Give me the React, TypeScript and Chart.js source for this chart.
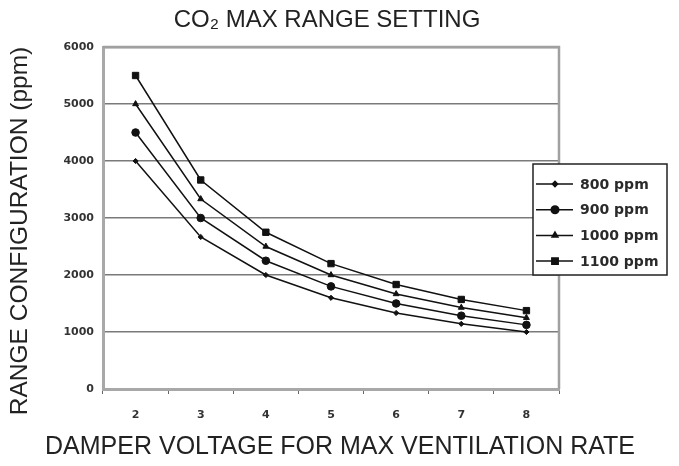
import React, { useEffect, useRef } from "react";
import { Chart, registerables } from "chart.js";
import { drawPoint } from "chart.js/helpers";

Chart.register(...registerables);

// ---- data ----
const voltages = ["2", "3", "4", "5", "6", "7", "8"];
const seriesLabels = ["800 ppm", "900 ppm", "1000 ppm", "1100 ppm"];
const ppm800 = [4000, 2667, 2000, 1600, 1333, 1143, 1000];
const ppm900 = [4500, 3000, 2250, 1800, 1500, 1286, 1125];
const ppm1000 = [5000, 3333, 2500, 2000, 1667, 1429, 1250];
const ppm1100 = [5500, 3667, 2750, 2200, 1833, 1571, 1375];
const yMin = 0;
const yMax = 6000;
const yStep = 1000;

const titleText = "CO\u2082 MAX RANGE SETTING";
const xTitle = "DAMPER VOLTAGE FOR MAX VENTILATION RATE";
const yTitle = "RANGE CONFIGURATION (ppm)";

const pointStyles = ["rectRot", "circle", "triangle", "rect"];
const pointRadii = [2.6, 3.8, 3.4, 4.5];

const sansFont = '"Liberation Sans", Arial, sans-serif';
const tickFont = { family: '"DejaVu Sans", Verdana, sans-serif', size: 11, weight: "bold" as const };

const framePlugin = {
  id: "frame",
  beforeDatasetsDraw(chart: any) {
    const { ctx, chartArea } = chart;
    ctx.save();
    ctx.strokeStyle = "#a0a0a0";
    ctx.lineWidth = 2.5;
    ctx.beginPath();
    ctx.moveTo(chartArea.left, chartArea.top);
    ctx.lineTo(chartArea.right, chartArea.top);
    ctx.lineTo(chartArea.right, chartArea.bottom);
    ctx.stroke();
    ctx.restore();
  },
};

// Axis titles drawn as canvas text (wider than the plot area, so not clipped/compressed)
const axisTitlePlugin = {
  id: "axisTitles",
  afterDraw(chart: any) {
    const { ctx } = chart;
    ctx.save();
    ctx.fillStyle = "#222";
    ctx.textAlign = "center";
    ctx.textBaseline = "middle";
    ctx.font = `25px ${sansFont}`;
    ctx.fillText(xTitle, 340, 447);
    ctx.translate(20, 231);
    ctx.rotate(-Math.PI / 2);
    ctx.font = `24.5px ${sansFont}`;
    ctx.fillText(yTitle, 0, 0);
    ctx.restore();
  },
};

const legendPlugin = {
  id: "boxLegend",
  afterDraw(chart: any) {
    const { ctx } = chart;
    const x0 = 533, y0 = 164, w = 134, h = 111;
    ctx.save();
    ctx.fillStyle = "#ffffff";
    ctx.fillRect(x0, y0, w, h);
    ctx.strokeStyle = "#222";
    ctx.lineWidth = 1.5;
    ctx.strokeRect(x0, y0, w, h);
    const rowH = 25.7;
    chart.data.datasets.forEach((ds: any, i: number) => {
      const cy = y0 + 20 + i * rowH;
      ctx.strokeStyle = "#111";
      ctx.lineWidth = 1.5;
      ctx.beginPath();
      ctx.moveTo(x0 + 3, cy);
      ctx.lineTo(x0 + 40, cy);
      ctx.stroke();
      ctx.fillStyle = "#111";
      drawPoint(
        ctx,
        { pointStyle: ds.pointStyle, radius: ds.pointRadius, borderWidth: 1, rotation: 0 } as any,
        x0 + 22,
        cy
      );
      ctx.fillStyle = "#2a2a2a";
      ctx.font = `bold 14px "DejaVu Sans", Verdana, sans-serif`;
      ctx.textBaseline = "middle";
      ctx.textAlign = "left";
      ctx.fillText(ds.label, x0 + 47, cy + 1);
    });
    ctx.restore();
  },
};

export default function App() {
  const canvasRef = useRef<HTMLCanvasElement | null>(null);

  useEffect(() => {
    if (!canvasRef.current) return;
    const seriesData = [ppm800, ppm900, ppm1000, ppm1100];
    const chart = new Chart(canvasRef.current, {
      type: "line",
      data: {
        labels: voltages,
        datasets: seriesData.map((d, i) => ({
          label: seriesLabels[i],
          data: d,
          yAxisID: "y",
          borderColor: "#111",
          backgroundColor: "#111",
          borderWidth: 1.5,
          pointStyle: pointStyles[i] as any,
          pointRadius: pointRadii[i],
          pointBackgroundColor: "#111",
          pointBorderColor: "#111",
          pointBorderWidth: 1,
          tension: 0,
          fill: false,
        })),
      },
      options: {
        animation: false,
        responsive: true,
        maintainAspectRatio: false,
        layout: { padding: { left: 0, right: 25, top: 0, bottom: 0 } },
        plugins: {
          legend: { display: false },
          tooltip: { enabled: false },
          title: {
            display: true,
            text: titleText,
            color: "#222",
            font: { family: sansFont, size: 24, weight: "normal" },
            padding: { top: 6, bottom: 12.2 },
          },
        },
        scales: {
          x: {
            type: "category",
            offset: true,
            grid: {
              display: true,
              offset: true,
              drawOnChartArea: false,
              drawTicks: true,
              tickLength: 5,
              color: "#666",
              lineWidth: 1,
            },
            border: { display: true, color: "#a8a8a8", width: 3 },
            ticks: { font: tickFont, color: "#333", padding: 15 },
            title: { display: false },
            afterFit: (s: any) => {
              s.height = 77;
            },
          },
          y: {
            min: yMin,
            max: yMax,
            ticks: {
              stepSize: yStep,
              font: tickFont,
              color: "#333",
              padding: 9,
              callback: (v: any) => String(v),
            },
            grid: {
              drawTicks: false,
              color: (c: any) =>
                c.tick && c.tick.value === yMax
                  ? "#a8a8a8"
                  : c.tick && c.tick.value === yMin
                  ? "rgba(0,0,0,0)"
                  : "#7a7a7a",
              lineWidth: (c: any) => (c.tick && c.tick.value === yMax ? 2.5 : 1.5),
            },
            border: { display: true, color: "#a8a8a8", width: 3 },
            title: { display: false },
            afterFit: (s: any) => {
              s.width = 103;
            },
          },
          y2: {
            type: "linear",
            position: "right",
            min: 0,
            max: 1,
            display: true,
            grid: { display: false, drawOnChartArea: false },
            border: { display: false },
            ticks: { display: false },
            afterFit: (s: any) => {
              s.width = 95;
            },
          },
        },
      },
      plugins: [framePlugin, axisTitlePlugin, legendPlugin],
    });
    return () => chart.destroy();
  }, []);

  return (
    <div style={{ position: "fixed", left: 0, top: 0, width: 679, height: 466, background: "#fff" }}>
      <canvas ref={canvasRef} />
    </div>
  );
}
